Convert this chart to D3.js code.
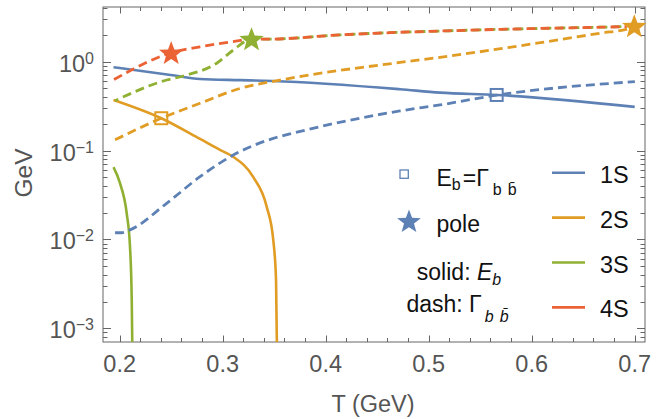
<!DOCTYPE html>
<html>
<head>
<meta charset="utf-8">
<script src="https://cdn.jsdelivr.net/npm/d3@7"></script>
<style>
  body { margin: 0; background: #fff; }
  svg { display: block; font-family: "Liberation Sans", Arial, sans-serif; }
</style>
</head>
<body>
<div id="main"></div>
<script>
// states and their colours
const states = ["1S", "2S", "3S", "4S"]
const colors = ["#5e81b5", "#e19c24", "#8fb032", "#eb6235"]

// axis ticks
const xTicks = [0.2, 0.3, 0.4, 0.5, 0.6, 0.7]
const yDecades = [-3, -2, -1, 0]

// solid: binding energy E_b vs T, [T (GeV), GeV]
const eb1S = [[0.194, 0.865], [0.2495, 0.709], [0.278, 0.638], [0.317, 0.62], [0.349, 0.607], [0.472, 0.49], [0.511, 0.448], [0.566, 0.422], [0.70, 0.31]]
const eb2S = [[0.194, 0.371], [0.2404, 0.231], [0.278, 0.135], [0.2974, 0.1016], [0.310, 0.0853], [0.3294, 0.0508], [0.3427, 0.0234], [0.3491, 0.00986], [0.3518, 0.0035], [0.353, 0.0003]]
const eb3S = [[0.194, 0.065], [0.2003, 0.0429], [0.2068, 0.0197], [0.210, 0.0083], [0.2117, 0.0021], [0.2126, 0.0003]]

// dashed: width Gamma_bbbar vs T
const gam1S = [[0.1955, 0.0119], [0.2019, 0.0119], [0.21, 0.0128], [0.2456, 0.0255], [0.278, 0.0508], [0.3103, 0.089], [0.3491, 0.137], [0.3685, 0.157], [0.4721, 0.279], [0.511, 0.326], [0.566, 0.42], [0.7002, 0.596]]
const gam2S = [[0.1955, 0.132], [0.2404, 0.231], [0.278, 0.34], [0.3168, 0.50], [0.3556, 0.62], [0.4721, 0.98], [0.511, 1.12], [0.6663, 2.09], [0.6954, 2.37], [0.6996, 2.5]]
const gam3S = [[0.1955, 0.364], [0.2456, 0.622], [0.2617, 0.69], [0.2942, 0.96], [0.3103, 1.35], [0.3282, 1.80], [0.3427, 1.79], [0.4139, 2.0], [0.4721, 2.14], [0.511, 2.21], [0.5692, 2.31], [0.6663, 2.44], [0.6922, 2.48]]
const gam4S = [[0.1945, 0.63], [0.250, 1.26], [0.278, 1.47], [0.3103, 1.68], [0.3282, 1.79], [0.3427, 1.79], [0.4139, 2.0], [0.4721, 2.14], [0.511, 2.21], [0.5692, 2.31], [0.6663, 2.44], [0.6922, 2.48]]

// markers: E_b = Gamma crossings and poles, [state index, T, GeV]
const crossings = [[0, 0.566, 0.422], [1, 0.2404, 0.231]]
const poles = [[3, 0.250, 1.26], [2, 0.328, 1.80], [1, 0.6996, 2.52]]

// T where the 3S and 4S widths join
const mergeT = 0.3427

const W = 665, H = 419
const m = { left: 103, right: 20, top: 7, bottom: 77 }

const x = d3.scaleLinear().domain([0.1838, 0.7100]).range([m.left, W - m.right])
const y = d3.scaleLog().domain([7.02e-4, 4.12]).range([H - m.bottom, m.top])

const svg = d3.select("#main").append("svg").attr("width", W).attr("height", H)

svg.append("defs").append("clipPath").attr("id", "plotClip")
  .append("rect").attr("x", m.left).attr("y", m.top)
  .attr("width", W - m.left - m.right).attr("height", H - m.top - m.bottom)

const axisColor = "#666"
const labelColor = "#555"

// frame
svg.append("rect").attr("x", m.left).attr("y", m.top)
  .attr("width", W - m.left - m.right).attr("height", H - m.top - m.bottom)
  .attr("fill", "none").attr("stroke", axisColor).attr("stroke-width", 1)

const g_ticks = svg.append("g").attr("stroke", axisColor).attr("stroke-width", 1)
const isMajorX = t => Math.abs(t * 10 - Math.round(t * 10)) < 1e-6
d3.range(0.2, 0.7101, 0.02).forEach(t => {
  const len = isMajorX(t) ? 6.5 : 4
  const px = Math.round(x(t)) + 0.5
  g_ticks.append("line").attr("x1", px).attr("x2", px).attr("y1", H - m.bottom).attr("y2", H - m.bottom - len)
  g_ticks.append("line").attr("x1", px).attr("x2", px).attr("y1", m.top).attr("y2", m.top + len)
})
const [yLo, yHi] = y.domain()
d3.range(-4, 1).forEach(d => {
  d3.range(1, 10).forEach(k => {
    const v = k * Math.pow(10, d)
    if (v < yLo || v > yHi) return
    const len = k === 1 ? 8 : 4.5
    const py = Math.round(y(v)) + 0.5
    g_ticks.append("line").attr("y1", py).attr("y2", py).attr("x1", m.left).attr("x2", m.left + len)
    g_ticks.append("line").attr("y1", py).attr("y2", py).attr("x1", W - m.right).attr("x2", W - m.right - len)
  })
})

// tick labels
svg.append("g").selectAll("text").data(xTicks).join("text")
  .attr("x", d => x(d)).attr("y", 371.5)
  .attr("text-anchor", "middle").attr("font-size", 23.5).attr("fill", labelColor)
  .text(d => d.toFixed(1))

const yl = svg.append("g").selectAll("text").data(yDecades).join("text")
  .attr("x", 94).attr("y", d => y(Math.pow(10, d)) + 10)
  .attr("text-anchor", "end").attr("font-size", 23.5).attr("fill", labelColor)
yl.append("tspan").text("10")
yl.append("tspan").attr("dy", -8).attr("font-size", 16).text(d => d === 0 ? "0" : "\u2212" + (-d))

// axis titles
svg.append("text").attr("x", 373).attr("y", 411.5).attr("text-anchor", "middle")
  .attr("font-size", 23.5).attr("fill", labelColor).text("T (GeV)")
svg.append("text").attr("transform", "translate(31.5,173) rotate(-90)").attr("text-anchor", "middle")
  .attr("font-size", 24.5).attr("fill", labelColor).text("GeV")

// curves
const line = d3.line().x(d => x(d[0])).y(d => y(d[1])).curve(d3.curveMonotoneX)
const plot = svg.append("g").attr("clip-path", "url(#plotClip)")
const solids = [eb1S, eb2S, eb3S, null]
const dashes = [gam1S, gam2S, gam3S, gam4S]
states.forEach((s, i) => {
  if (solids[i]) plot.append("path").attr("d", line(solids[i]))
    .attr("fill", "none").attr("stroke", colors[i]).attr("stroke-width", 2.6)
})

const dashPaths = states.map((s, i) =>
  plot.append("path").attr("d", line(dashes[i]))
    .attr("fill", "none").attr("stroke", colors[i]).attr("stroke-width", 2.8)
    .attr("stroke-dasharray", "9,5"))

// arc length along a drawn path up to a given T (bisection on x)
function lengthAt(path, t) {
  const node = path.node(), px = x(t)
  let lo = 0, hi = node.getTotalLength()
  for (let k = 0; k < 40; k++) {
    const mid = (lo + hi) / 2
    if (node.getPointAtLength(mid).x < px) lo = mid
    else hi = mid
  }
  return lo
}
// shift 3S dashes so they sit just ahead of the 4S dashes where both curves join
dashPaths[2].attr("stroke-dashoffset", lengthAt(dashPaths[3], mergeT) - lengthAt(dashPaths[2], mergeT) - 1.8)

function starPath(R) {
  const r = R * 0.42
  const pts = d3.range(10).map(k => {
    const a = -Math.PI / 2 + k * Math.PI / 5
    const rr = k % 2 ? r : R
    return [rr * Math.cos(a), rr * Math.sin(a)]
  })
  return "M" + pts.map(p => p.join(",")).join("L") + "Z"
}

// markers
svg.append("g").selectAll("rect").data(crossings).join("rect")
  .attr("x", d => x(d[1]) - 6).attr("y", d => y(d[2]) - 6)
  .attr("width", 12).attr("height", 12)
  .attr("fill", "none").attr("stroke", d => colors[d[0]]).attr("stroke-width", 2)
svg.append("g").selectAll("path").data(poles).join("path")
  .attr("transform", d => `translate(${x(d[1])},${y(d[2]) + 1})`)
  .attr("d", starPath(12.8)).attr("fill", d => colors[d[0]])

// legend: markers and styles
const lg = svg.append("g").attr("font-size", 23).attr("fill", "#111")
lg.append("rect").attr("x", 400).attr("y", 170).attr("width", 8.3).attr("height", 8.3)
  .attr("fill", "none").attr("stroke", colors[0]).attr("stroke-width", 1.3)
const t1 = lg.append("text").attr("x", 436.5).attr("y", 186)
t1.append("tspan").text("E")
t1.append("tspan").attr("font-size", 16).attr("dy", 4).text("b")
t1.append("tspan").attr("dy", -4).attr("dx", 2).text("=\u0393")
t1.append("tspan").attr("font-size", 16).attr("dy", 9).attr("dx", 4).text("b")
t1.append("tspan").attr("font-size", 16).attr("dx", 6).text("b\u0304")

lg.append("path").attr("transform", "translate(409,222)").attr("d", starPath(12.5)).attr("fill", colors[0])
lg.append("text").attr("x", 436.5).attr("y", 231.5).text("pole")

const t3 = lg.append("text").attr("x", 459).attr("y", 280).attr("text-anchor", "middle")
t3.append("tspan").text("solid: ")
t3.append("tspan").attr("font-style", "italic").text("E")
t3.append("tspan").attr("font-style", "italic").attr("font-size", 16).attr("dy", 5).text("b")

const t4 = lg.append("text").attr("x", 457.5).attr("y", 311.5).attr("text-anchor", "middle")
t4.append("tspan").text("dash: \u0393")
t4.append("tspan").attr("font-style", "italic").attr("font-size", 16).attr("dy", 10).attr("dx", 3).text("b")
t4.append("tspan").attr("font-style", "italic").attr("font-size", 16).attr("dx", 6).text("b\u0304")

// legend: states
const ls = svg.append("g").selectAll("g").data(states).join("g")
  .attr("transform", (d, i) => `translate(0,${172.7 + i * 44.9})`)
ls.append("line").attr("x1", 552).attr("x2", 585).attr("y1", 0).attr("y2", 0)
  .attr("stroke", (d, i) => colors[i]).attr("stroke-width", 2.6)
ls.append("text").attr("x", 600).attr("y", 10).attr("font-size", 23.5).attr("fill", "#111").text(d => d)
</script>
</body>
</html>
